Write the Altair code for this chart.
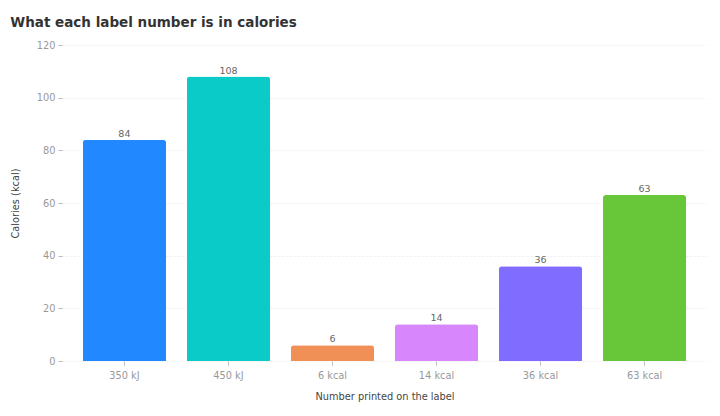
import pandas as pd
import altair as alt

labels = ["350 kJ", "450 kJ", "6 kcal", "14 kcal", "36 kcal", "63 kcal"]
kcal = [84, 108, 6, 14, 36, 63]
colors = ["#2188ff", "#0bcbc9", "#f08f56", "#d886fc", "#806cff", "#67c738"]

df = pd.DataFrame({"label": labels, "kcal": kcal})

FONT = "DejaVu Sans"

base = alt.Chart(df).encode(
    x=alt.X(
        "label:N",
        sort=labels,
        title="Number printed on the label",
        scale=alt.Scale(paddingInner=0.2, paddingOuter=0.2),
        axis=alt.Axis(labelAngle=0, domain=False, ticks=True, tickSize=4,
                      tickColor="#bbbbbb", labelPadding=5, titlePadding=12),
    ),
    y=alt.Y(
        "kcal:Q",
        title="Calories (kcal)",
        scale=alt.Scale(domain=[0, 120]),
        axis=alt.Axis(values=[0, 20, 40, 60, 80, 100, 120], domain=False,
                      tickSize=4, tickColor="#bbbbbb", labelPadding=3,
                      titlePadding=16, gridDash=[2, 2], gridColor="#eeeeee"),
    ),
)

bars = base.mark_bar(cornerRadiusTopLeft=3, cornerRadiusTopRight=3).encode(
    color=alt.Color("label:N", sort=labels,
                    scale=alt.Scale(domain=labels, range=colors), legend=None)
)

text = base.mark_text(baseline="bottom", dy=-1, fontSize=9.5, color="#666666", font=FONT).encode(
    text="kcal:Q"
)

chart = (
    alt.layer(bars, text)
    .properties(
        width=645,
        height=316,
        autosize=alt.AutoSizeParams(type="none"),
        padding={"left": 54, "top": 37, "right": 5, "bottom": 47},
        title=alt.TitleParams(
            text="What each label number is in calories",
            anchor="start",
            fontSize=13.5,
            fontWeight="bold",
            font=FONT,
            color="#333333",
            offset=11,
        ),
    )
    .configure_view(stroke=None)
    .configure_axis(
        labelFont=FONT,
        titleFont=FONT,
        labelFontSize=9.8,
        labelColor="#999999",
        titleFontSize=9.8,
        titleFontWeight="normal",
        titleColor="#444444",
    )
)

chart.save("out.html", embed_options={"renderer": "svg", "actions": False})
